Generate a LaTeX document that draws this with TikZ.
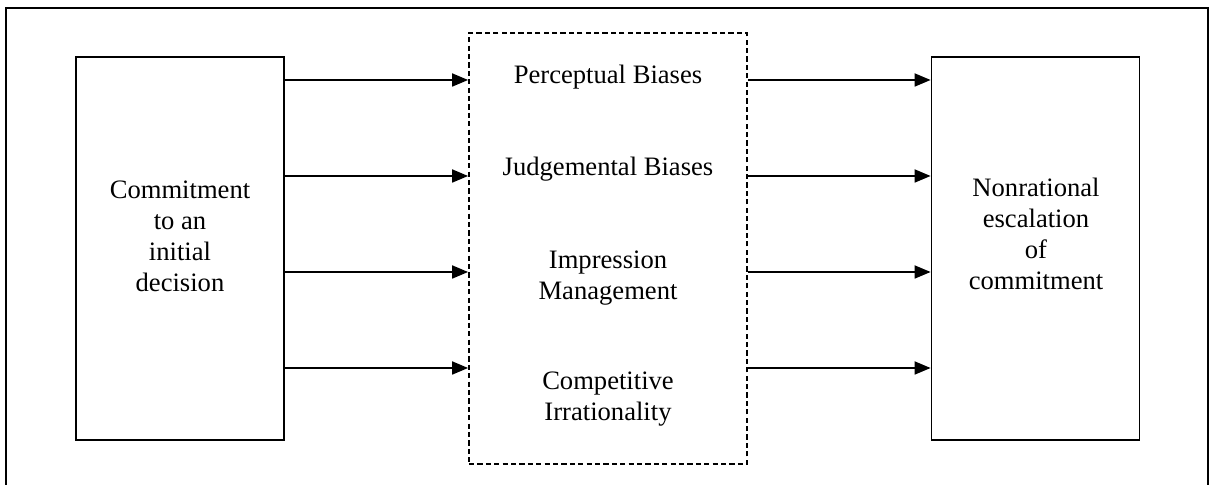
\documentclass[tikz,border=0pt]{standalone}
\usepackage{fontspec}
\setmainfont{Liberation Serif}
\usetikzlibrary{positioning, arrows.meta, calc}

\begin{document}
\begin{tikzpicture}[
    x=0.5pt, y=-0.5pt,
    font=\fontsize{13.3}{15.5}\selectfont,
    bigbox/.style={rectangle, draw, line width=0.9pt, minimum width=104pt, minimum height=191.5pt, inner sep=0pt},
    midbox/.style={rectangle, draw, dashed, dash pattern=on 2.6pt off 1.6pt, line width=0.9pt, minimum width=139pt, minimum height=215.5pt, inner sep=0pt},
    label/.style={align=center, inner sep=0pt},
    arrow/.style={-{Triangle[length=8pt, width=6.5pt]}, line width=0.9pt}
]
    \useasboundingbox (0,0) rectangle (1209,485);
    \draw[line width=0.9pt] (6,490) -- (6,8) -- (1208,8) -- (1208,490);

    \node[bigbox] (commit) at (180,248.5) {};
    \node[label] (committxt) at (180,236) {Commitment\\to an\\initial\\decision};
    \node[midbox] (causes) at (608,248.5) {};
    \node[bigbox] (escal) at (1035.5,248.5) {};
    \node[label] (escaltxt) at (1036,234) {Nonrational\\escalation\\of\\commitment};

    \node[label] (percept) at (608,77) {Perceptual Biases};
    \node[label] (judge) at (608,169) {Judgemental Biases};
    \node[label] (impress) at (608,278) {Impression\\Management};
    \node[label] (compete) at (608,399) {Competitive\\Irrationality};

    \coordinate (row1) at (0,80);
    \coordinate (row2) at (0,176);
    \coordinate (row3) at (0,272);
    \coordinate (row4) at (0,368);

    \draw[arrow] (commit.east |- row1) -- (causes.west |- row1);
    \draw[arrow] (commit.east |- row2) -- (causes.west |- row2);
    \draw[arrow] (commit.east |- row3) -- (causes.west |- row3);
    \draw[arrow] (commit.east |- row4) -- (causes.west |- row4);
    \draw[arrow] (causes.east |- row1) -- (escal.west |- row1);
    \draw[arrow] (causes.east |- row2) -- (escal.west |- row2);
    \draw[arrow] (causes.east |- row3) -- (escal.west |- row3);
    \draw[arrow] (causes.east |- row4) -- (escal.west |- row4);
\end{tikzpicture}
\end{document}
